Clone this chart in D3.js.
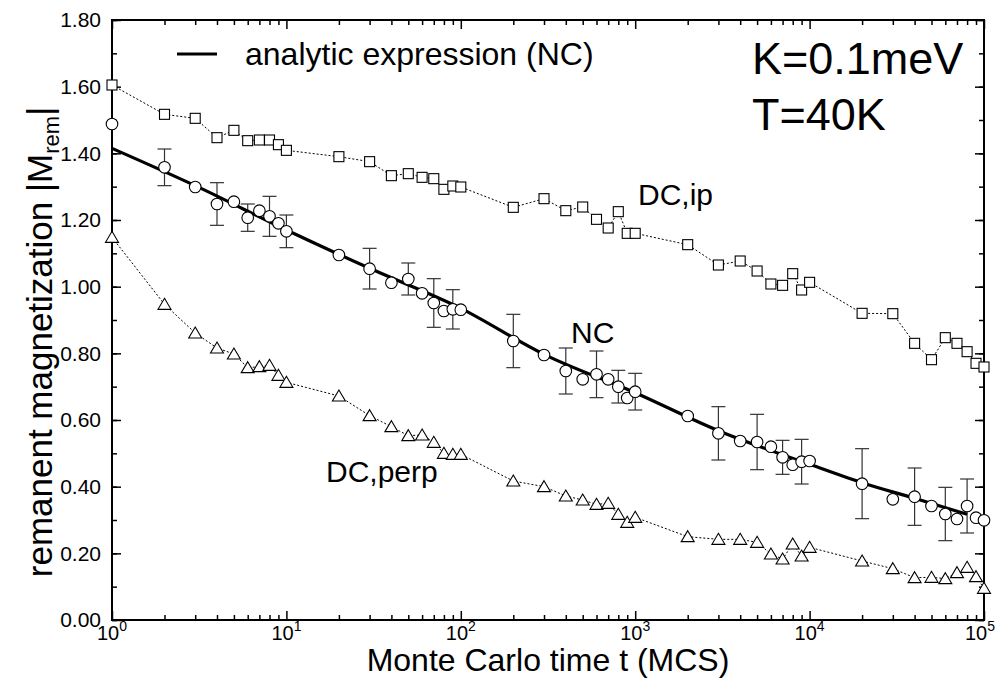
<!DOCTYPE html>
<html><head><meta charset="utf-8">
<script src="https://cdn.jsdelivr.net/npm/d3@7"></script>
<style>body{margin:0;background:#fff}svg{display:block;font-family:"Liberation Sans",Arial,sans-serif}</style>
</head><body><svg id="c" width="996" height="679"></svg>
<script>
const times = [1,2,3,4,5,6,7,8,9,10,20,30,40,50,60,70,80,90,100,200,300,400,500,600,700,800,900,1000,
  2000,3000,4000,5000,6000,7000,8000,9000,10000,20000,30000,40000,50000,60000,70000,80000,90000,100000];
const dcIp = [1.605,1.517,1.505,1.447,1.469,1.438,1.440,1.440,1.426,1.409,1.390,1.375,1.333,1.339,1.328,1.324,1.292,1.302,1.299,
  1.238,1.264,1.228,1.239,1.202,1.176,1.225,1.160,1.160,1.126,1.065,1.077,1.047,1.008,1.004,1.039,0.990,1.013,
  0.920,0.919,0.830,0.781,0.847,0.830,0.805,0.770,0.759];
const nc = [1.488,1.358,1.299,1.248,1.255,1.207,1.228,1.211,1.190,1.166,1.095,1.054,1.012,1.023,0.980,0.951,0.927,0.932,0.931,
  0.837,0.795,0.747,0.722,0.737,0.722,0.700,0.666,0.685,0.612,0.560,0.537,0.534,0.520,0.488,0.466,0.475,0.477,
  0.409,0.362,0.370,0.342,0.318,0.303,0.342,0.307,0.299];
const ncErr = [null,0.055,null,0.064,null,0.041,null,0.060,null,0.049,null,0.061,null,0.048,null,0.073,null,0.059,null,
  0.080,null,0.069,null,0.070,null,0.049,null,0.055,null,0.080,null,0.083,null,0.051,null,0.067,null,
  0.105,null,0.086,null,0.080,null,0.081,null,null];
const dcPerp = [1.148,0.947,0.861,0.816,0.798,0.757,0.760,0.764,0.734,0.713,0.672,0.613,0.580,0.553,0.555,0.533,0.500,0.497,0.497,
  0.417,0.400,0.372,0.360,0.347,0.350,0.317,0.293,0.308,0.250,0.242,0.242,0.233,0.198,0.183,0.228,0.192,0.218,
  0.177,0.154,0.127,0.128,0.124,0.142,0.158,0.130,0.095];
const analyticT = [1,3,10,30,100,300,1000,3000,10000,20000,40000,80000];
const analyticM = [1.415,1.303,1.170,1.055,0.935,0.797,0.682,0.568,0.467,0.412,0.365,0.317];
const yTicks = [0,0.2,0.4,0.6,0.8,1.0,1.2,1.4,1.6,1.8];
const xDecades = [1,10,100,1000,10000,100000];
const xExponents = ["0","1","2","3","4","5"];

const svg = d3.select("#c");
const L=112, R=984, T=20, B=620;
const x = d3.scaleLog().domain([1,1e5]).range([L,R]);
const y = d3.scaleLinear().domain([0,1.8]).range([B,T]);
const xMinor = [];
xDecades.slice(0,-1).forEach(d=>{for(let k=2;k<=9;k++) xMinor.push(d*k);});
const yMinor = d3.range(0,19).map(i=>i/10);

function styleAxis(g){g.select(".domain").remove();g.selectAll("line").attr("stroke","#000").attr("stroke-width",1.5);}
svg.append("g").attr("transform",`translate(0,${B})`).call(d3.axisBottom(x).tickValues(xMinor).tickSize(-5).tickFormat("")).call(styleAxis);
svg.append("g").attr("transform",`translate(0,${B})`).call(d3.axisBottom(x).tickValues(xDecades).tickSize(-9).tickFormat("")).call(styleAxis);
svg.append("g").attr("transform",`translate(0,${T})`).call(d3.axisTop(x).tickValues(xMinor).tickSize(-5).tickFormat("")).call(styleAxis);
svg.append("g").attr("transform",`translate(0,${T})`).call(d3.axisTop(x).tickValues(xDecades).tickSize(-9).tickFormat("")).call(styleAxis);
svg.append("g").attr("transform",`translate(${L},0)`).call(d3.axisLeft(y).tickValues(yMinor).tickSize(-5).tickFormat("")).call(styleAxis);
svg.append("g").attr("transform",`translate(${R},0)`).call(d3.axisRight(y).tickValues(yMinor).tickSize(-5).tickFormat("")).call(styleAxis);
svg.append("g").attr("transform",`translate(${R},0)`).call(d3.axisRight(y).tickValues(yTicks).tickSize(-9).tickFormat("")).call(styleAxis);
const yl = svg.append("g").attr("transform",`translate(${L},0)`)
  .call(d3.axisLeft(y).tickValues(yTicks).tickSize(-9).tickPadding(11).tickFormat(d3.format(".2f"))).call(styleAxis);
yl.selectAll("text").attr("font-size",21).attr("fill","#000").attr("font-family","Liberation Sans, Arial, sans-serif");

const xl = svg.append("g");
xDecades.forEach((d,i)=>{
  const last = i===xDecades.length-1;
  const t = xl.append("text").attr("x",last?995:x(d)).attr("y",640).attr("text-anchor",last?"end":"middle").attr("font-size",20);
  t.append("tspan").text("10");
  t.append("tspan").attr("dy",-9).attr("font-size",14).text(xExponents[i]);
});

svg.append("rect").attr("x",L).attr("y",T).attr("width",R-L).attr("height",B-T).attr("fill","none").attr("stroke","#000").attr("stroke-width",2);

const plot = svg.append("g");
const lineGen = d3.line().x((d,i)=>x(times[i])).y(d=>y(d));
[dcIp,dcPerp].forEach(s=>{
  plot.append("path").attr("d",lineGen(s)).attr("fill","none").attr("stroke","#000").attr("stroke-width",1).attr("stroke-dasharray","2,2");
});
const eb = plot.append("g").attr("stroke","#333").attr("stroke-width",1.2);
ncErr.forEach((e,i)=>{
  if(e==null) return;
  const cx=x(times[i]), y1=y(nc[i]+e), y2=y(nc[i]-e);
  eb.append("line").attr("x1",cx).attr("x2",cx).attr("y1",y1).attr("y2",y2);
  eb.append("line").attr("x1",cx-7).attr("x2",cx+7).attr("y1",y1).attr("y2",y1);
  eb.append("line").attr("x1",cx-7).attr("x2",cx+7).attr("y1",y2).attr("y2",y2);
});
const aLine = d3.line().x((d,i)=>x(analyticT[i])).y(d=>y(d)).curve(d3.curveMonotoneX);
plot.append("path").attr("d",aLine(analyticM)).attr("fill","none").attr("stroke","#000").attr("stroke-width",3.2);

plot.selectAll(".sq").data(dcIp).join("rect").attr("x",(d,i)=>x(times[i])-5).attr("y",d=>y(d)-5)
  .attr("width",10).attr("height",10).attr("fill","#fff").attr("stroke","#000").attr("stroke-width",1.1);
plot.selectAll(".tri").data(dcPerp).join("path")
  .attr("d",(d,i)=>{const cx=x(times[i]),cy=y(d);return `M${cx},${cy-6}L${cx+6.5},${cy+5}L${cx-6.5},${cy+5}Z`;})
  .attr("fill","#fff").attr("stroke","#000").attr("stroke-width",1.1);
plot.selectAll(".ci").data(nc).join("circle").attr("cx",(d,i)=>x(times[i])).attr("cy",d=>y(d)).attr("r",5.8)
  .attr("fill","#fff").attr("stroke","#000").attr("stroke-width",1.1);

svg.append("line").attr("x1",177).attr("x2",217).attr("y1",54).attr("y2",54).attr("stroke","#000").attr("stroke-width",3.2);
svg.append("text").attr("x",245).attr("y",65).attr("font-size",32).text("analytic expression (NC)");
svg.append("text").attr("x",752).attr("y",74).attr("font-size",45).text("K=0.1meV");
svg.append("text").attr("x",752).attr("y",130).attr("font-size",45).text("T=40K");
svg.append("text").attr("x",638).attr("y",205).attr("font-size",30).text("DC,ip");
svg.append("text").attr("x",571).attr("y",343).attr("font-size",30).text("NC");
svg.append("text").attr("x",326).attr("y",482).attr("font-size",30).text("DC,perp");

svg.append("text").attr("x",548).attr("y",671).attr("text-anchor","middle").attr("font-size",32).text("Monte Carlo time t (MCS)");
const yt = svg.append("text").attr("transform",`translate(52,342) rotate(-90)`).attr("text-anchor","middle").attr("font-size",35);
yt.append("tspan").text("remanent magnetization |M");
yt.append("tspan").attr("font-size",22).attr("dy",7).text("rem");
yt.append("tspan").attr("dy",-7).text("|");
</script></body></html>
